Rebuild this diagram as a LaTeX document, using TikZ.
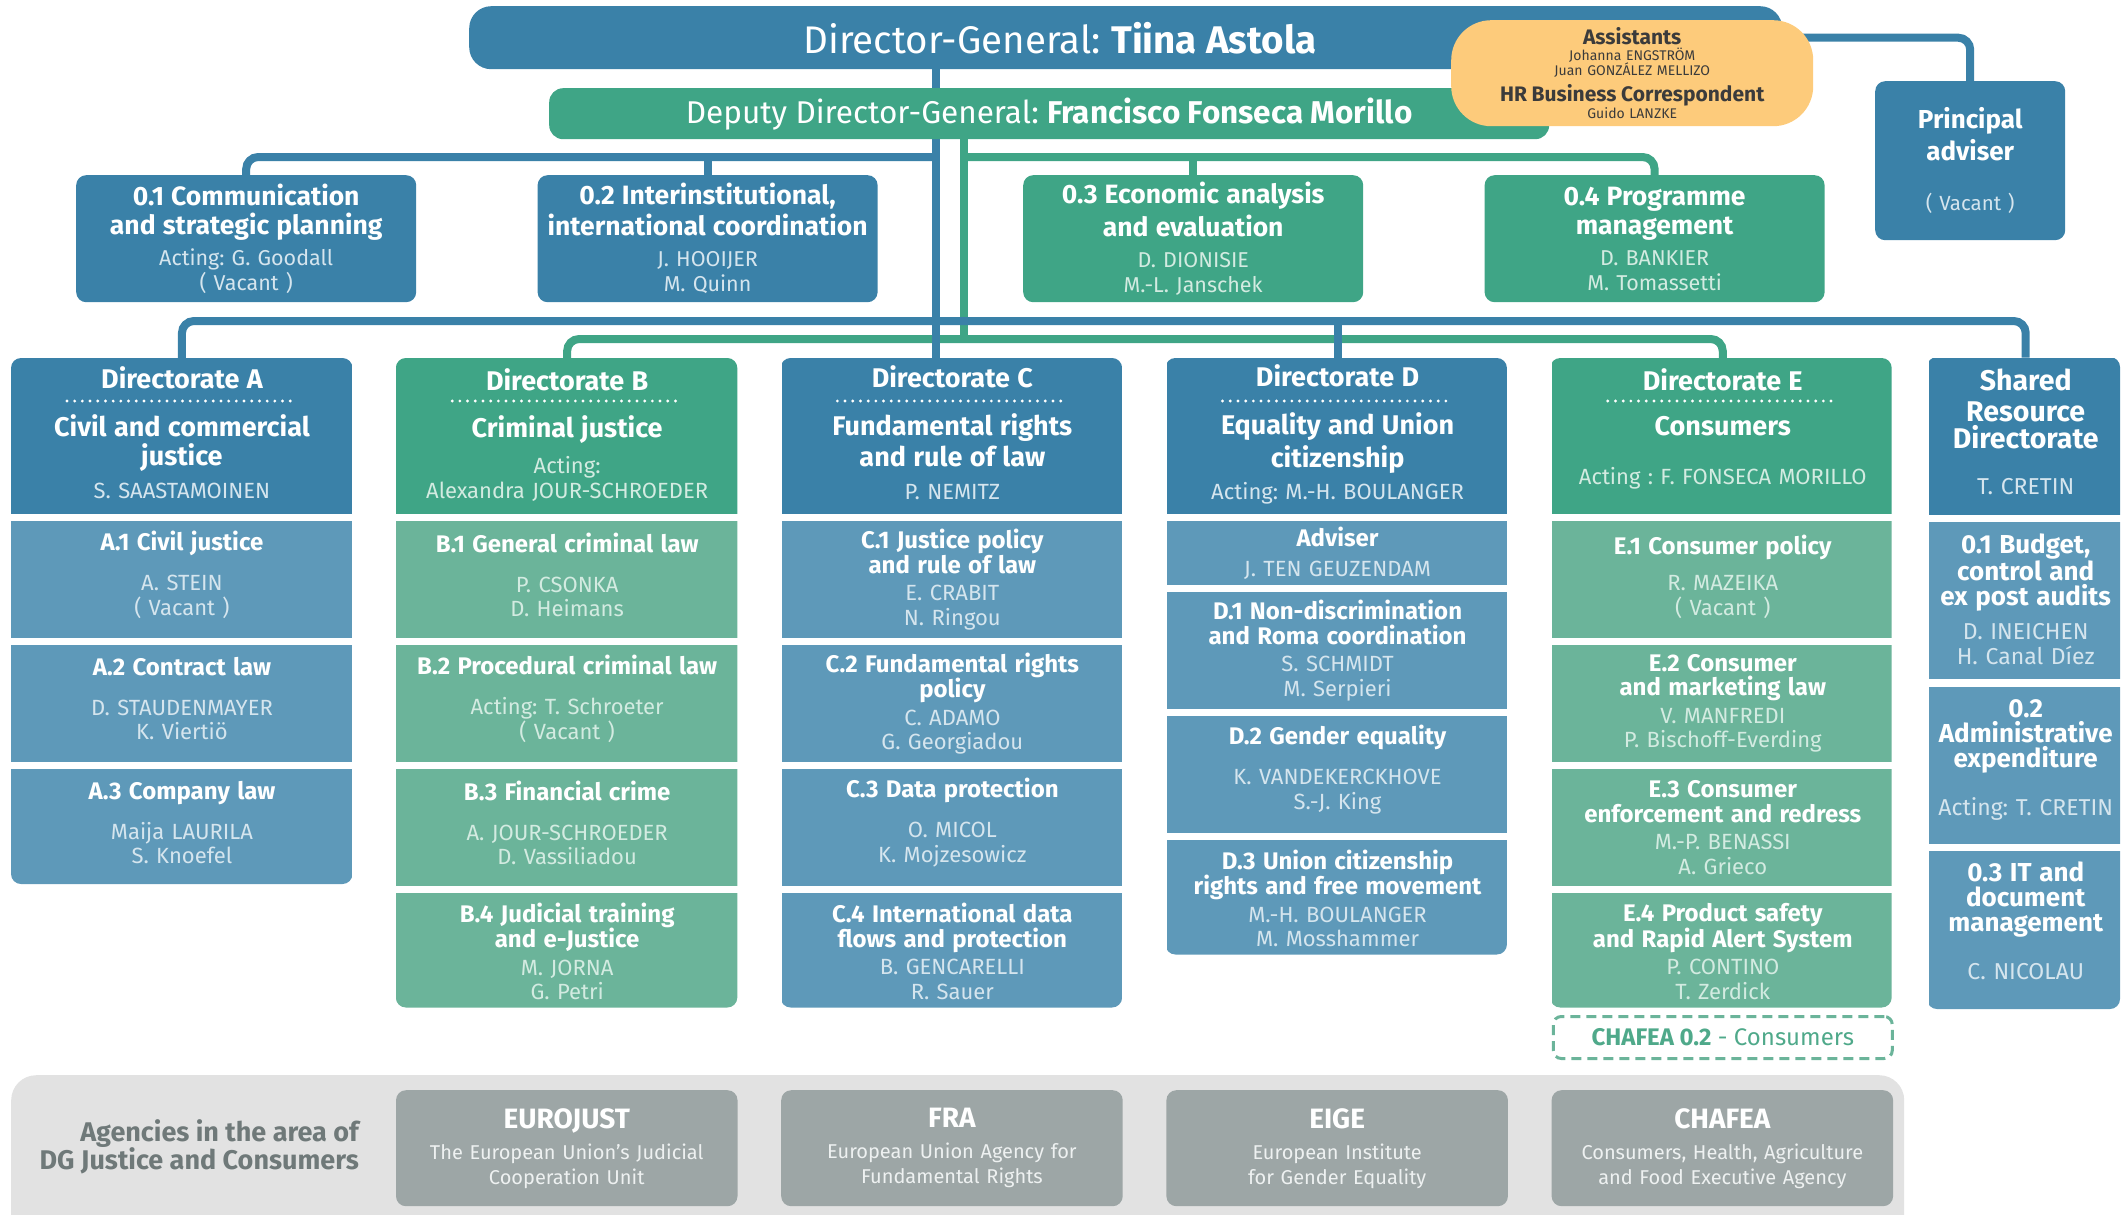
\documentclass[tikz,border=0pt]{standalone}
\usepackage{fontspec}
\setmainfont{Fira Sans}
\usetikzlibrary{positioning,backgrounds}

\definecolor{dgblue}{HTML}{3A81A8}
\definecolor{unitblue}{HTML}{5E99B9}
\definecolor{dggreen}{HTML}{3FA586}
\definecolor{unitgreen}{HTML}{6BB49A}
\definecolor{namblue}{HTML}{D5E5EE}
\definecolor{namgreen}{HTML}{D3EBE1}
\definecolor{agencygrey}{HTML}{9DA6A6}
\definecolor{agtext}{HTML}{EEF1F1}
\definecolor{bandgrey}{HTML}{E2E2E2}
\definecolor{asstyellow}{HTML}{FDCB7B}
\definecolor{asstext}{HTML}{3B3B3B}
\definecolor{labelgrey}{HTML}{6F7979}
\definecolor{chafeagreen}{HTML}{4FA98A}

% text of the boxes
\newcommand{\dirhd}[5][7.5pt]{{\color{white}\bfseries\fontsize{27}{30}\selectfont #3\\[#2]#4}\\[#1]#5\par\vspace{7pt}}
\newcommand{\un}[3][14pt]{{\color{white}\bfseries\fontsize{24}{24.5}\selectfont #2}\\[#1]#3}
\newcommand{\unone}[3][15.5pt]{\un[#1]{#2}{#3}\par\vspace{9.5pt}}
\newcommand{\st}[2]{{\color{white}\bfseries\fontsize{26.5}{25}\selectfont #1}\\[6pt]#2}
\newcommand{\ag}[2]{{\color{white}\bfseries\fontsize{28}{25}\selectfont #1}\\[6pt]#2}

\tikzset{
  box/.style={inner sep=0pt, align=center, font=\fontsize{22}{24.5}\selectfont},
  hdB/.style={box, fill=dgblue, text=namblue, minimum width=341.5, minimum height=156, text width=336, font=\fontsize{22}{25}\selectfont},
  hdG/.style={hdB, fill=dggreen, text=namgreen},
  unB/.style={box, fill=unitblue, text=namblue, minimum width=341.5, minimum height=117, text width=336},
  unG/.style={unB, fill=unitgreen, text=namgreen},
  srB/.style={unB, minimum width=193, minimum height=157, text width=190, font=\fontsize{23}{25}\selectfont},
  stB/.style={box, fill=dgblue, text=namblue, rounded corners=10, minimum width=340, minimum height=127, text width=334, font=\fontsize{21.5}{25}\selectfont},
  stG/.style={stB, fill=dggreen, text=namgreen},
  agency/.style={box, fill=agencygrey, text=agtext, rounded corners=10, minimum width=341.5, minimum height=116, text width=336, font=\fontsize{20}{25}\selectfont},
  bline/.style={draw=dgblue, line width=8, rounded corners=12},
  gline/.style={draw=dggreen, line width=8, rounded corners=12},
  dots/.style={white, line width=3.2, line cap=round, dash pattern=on 0pt off 7.7pt},
}

\begin{document}
\frenchspacing
\begin{tikzpicture}[x=1pt, y=-1pt, node distance=6.5pt]
\useasboundingbox (0,0) rectangle (2125,1215);

% top management
\node[box, fill=dgblue, rounded corners=22, minimum width=1313, minimum height=63, anchor=north west] (dg) at (469,6) {};
\node[box, text=white, font=\fontsize{38.5}{40}\selectfont] (dgt) at (1060,38) {Director-General: \textbf{Tiina Astola}};
\node[box, fill=dggreen, text=white, rounded corners=14, minimum width=1000, minimum height=51, anchor=north west, font=\fontsize{31.5}{32}\selectfont] (dep) at (549,88) {Deputy Director-General: \textbf{Francisco Fonseca Morillo}};
\node[box, fill=asstyellow, text=asstext, rounded corners=40, minimum width=362, minimum height=106, text width=340, anchor=north west, font=\fontsize{14}{15.5}\selectfont] (asst) at (1451,20)
  {{\bfseries\fontsize{21}{22}\selectfont Assistants}\\Johanna ENGSTRÖM\\Juan GONZÁLEZ MELLIZO\\[6pt]{\bfseries\fontsize{21}{22}\selectfont HR Business Correspondent}\\Guido LANZKE};
\node[stB, minimum width=190, minimum height=159, text width=180, anchor=north west, font=\fontsize{20.5}{26}\selectfont] (pa) at (1875,81)
  {{\color{white}\bfseries\fontsize{26}{30}\selectfont Principal\\[4pt]adviser}\\[24pt]( Vacant )};

% units attached to the DG
\node[stB, anchor=north west] (s1) at (76,175) {\st{0.1 Communication\\[4pt]and strategic planning}{Acting: G. Goodall\\( Vacant )}};
\node[stB, right=121pt of s1] (s2) {\st{0.2 Interinstitutional,\\[4pt]international coordination}{J. HOOIJER\\M. Quinn}};
\node[stG, anchor=north west] (s3) at (1023,175) {\st{0.3 Economic analysis\\[4pt]and evaluation}{D. DIONISIE\\M.-L. Janschek}};
\node[stG, right=121pt of s3] (s4) {\st{0.4 Programme\\[4pt]management}{D. BANKIER\\M. Tomassetti}};

% Directorate A
\begin{scope}
\clip[rounded corners=10] (11,358) rectangle (352.5,884);
\node[hdB, anchor=north west] (dA) at (11,358) {\dirhd{18pt}{Directorate A}{Civil and commercial\\[3.7pt]justice}{S. SAASTAMOINEN}};
\node[unB, below=of dA] (a1) {\unone{A.1 Civil justice}{A. STEIN\\( Vacant )}};
\node[unB, below=of a1] (a2) {\unone{A.2 Contract law}{D. STAUDENMAYER\\K. Viertiö}};
\node[unB, below=of a2] (a3) {\unone{A.3 Company law}{Maija LAURILA\\S. Knoefel}};
\end{scope}

% Directorate B
\begin{scope}
\clip[rounded corners=10] (395.8,358) rectangle (737.3,1007.5);
\node[hdG, right=43.3pt of dA] (dB) {\dirhd[11pt]{22pt}{Directorate B}{Criminal justice}{Acting:\\Alexandra JOUR-SCHROEDER}\vspace{-4pt}};
\node[unG, below=of dB] (b1) {\unone{B.1 General criminal law}{P. CSONKA\\D. Heimans}};
\node[unG, below=of b1] (b2) {\unone{B.2 Procedural criminal law}{Acting: T. Schroeter\\( Vacant )}};
\node[unG, below=of b2] (b3) {\unone{B.3 Financial crime}{A. JOUR-SCHROEDER\\D. Vassiliadou}};
\node[unG, below=of b3] (b4) {\un[3pt]{B.4 Judicial training\\and e-Justice}{M. JORNA\\G. Petri}};
\end{scope}

% Directorate C
\begin{scope}
\clip[rounded corners=10] (780.6,358) rectangle (1122.1,1007.5);
\node[hdB, right=43.3pt of dB] (dC) {\dirhd{18pt}{Directorate C}{Fundamental rights\\[3.7pt]and rule of law}{P. NEMITZ}};
\node[unB, below=of dC] (c1) {\un[3pt]{C.1 Justice policy\\and rule of law}{E. CRABIT\\N. Ringou}};
\node[unB, below=of c1] (c2) {\un[3pt]{C.2 Fundamental rights\\policy}{C. ADAMO\\G. Georgiadou}};
\node[unB, below=of c2] (c3) {\unone{C.3 Data protection}{O. MICOL\\K. Mojzesowicz}};
\node[unB, below=of c3] (c4) {\un[3pt]{C.4 International data\\flows and protection}{B. GENCARELLI\\R. Sauer}};
\end{scope}

% Directorate D
\begin{scope}
\clip[rounded corners=10] (1165.4,358) rectangle (1506.9,954.5);
\node[hdB, right=43.3pt of dC] (dD) {\dirhd{18pt}{Directorate D}{Equality and Union\\[3.7pt]citizenship}{Acting: M.-H. BOULANGER}\vspace{-4pt}};
\node[unB, below=of dD, minimum height=64] (dadv) {\un[5pt]{Adviser}{J. TEN GEUZENDAM}};
\node[unB, below=of dadv] (d1) {\un[3pt]{D.1 Non-discrimination\\and Roma coordination}{S. SCHMIDT\\M. Serpieri}};
\node[unB, below=of d1] (d2) {\unone{D.2 Gender equality}{K. VANDEKERCKHOVE\\S.-J. King}};
\node[unB, below=of d2] (d3) {\un[3pt]{D.3 Union citizenship\\rights and free movement}{M.-H. BOULANGER\\M. Mosshammer}};
\end{scope}

% Directorate E
\begin{scope}
\clip[rounded corners=10] (1550.2,358) rectangle (1891.7,1007.5);
\node[hdG, right=43.3pt of dD] (dE) {\dirhd[24pt]{20pt}{Directorate E}{Consumers}{Acting : F. FONSECA MORILLO}\vspace{7pt}};
\node[unG, below=of dE] (e1) {\un[11.5pt]{E.1 Consumer policy}{R. MAZEIKA\\( Vacant )}\par\vspace{5.5pt}};
\node[unG, below=of e1] (e2) {\un[3pt]{E.2 Consumer\\and marketing law}{V. MANFREDI\\P. Bischoff-Everding}};
\node[unG, below=of e2] (e3) {\un[3pt]{E.3 Consumer\\enforcement and redress}{M.-P. BENASSI\\A. Grieco}};
\node[unG, below=of e3] (e4) {\un[3pt]{E.4 Product safety\\and Rapid Alert System}{P. CONTINO\\T. Zerdick}};
\end{scope}
\node[box, draw=unitgreen, line width=3, dash pattern=on 10pt off 6pt, rounded corners=8, minimum width=339, minimum height=42, text=chafeagreen, font=\fontsize{24}{26}\selectfont, below=5pt of e4] (chafea) {\textbf{CHAFEA 0.2} - Consumers};

% Shared Resource Directorate
\begin{scope}
\clip[rounded corners=10] (1927,357) rectangle (2120,1009);
\node[hdB, minimum width=193, minimum height=157, text width=190, font=\fontsize{23}{25}\selectfont, right=35.3pt of dE] (dSR)
  {{\color{white}\bfseries\fontsize{28.5}{28}\selectfont Shared\\[3pt]Resource\\[2pt]Directorate}\\[20.5pt]T. CRETIN\par\vspace{9pt}};
\node[srB, below=7pt of dSR] (r1) {\un[9pt]{\fontsize{26}{25}\selectfont 0.1 Budget,\\control and\\ex post audits}{D. INEICHEN\\H. Canal Díez}\par\vspace{3pt}};
\node[srB, below=7pt of r1] (r2) {\un[23pt]{\fontsize{26}{25}\selectfont 0.2\\Administrative\\expenditure}{Acting: T. CRETIN}\par\vspace{10pt}};
\node[srB, below=7pt of r2, minimum height=159] (r3) {\un[23pt]{\fontsize{26}{25}\selectfont 0.3 IT and\\document\\management}{C. NICOLAU}\par\vspace{20pt}};
\end{scope}

\foreach \d in {dA,dB,dC,dD,dE}
  \draw[dots] ([xshift=-115,yshift=-43]\d.north) -- ([xshift=115,yshift=-43]\d.north);

% agencies
\node[box, fill=bandgrey, rounded corners=25, minimum width=1893, minimum height=190, anchor=north west] (band) at (11,1075) {};
\node[box, anchor=east, align=right, text=labelgrey, font=\bfseries\fontsize{27}{28}\selectfont] (aglbl) at (359,1147) {Agencies in the area of\\DG Justice and Consumers};
\node[agency, anchor=north west] (ag1) at (395.8,1090) {\ag{EUROJUST}{The European Union’s Judicial\\Cooperation Unit}};
\node[agency, right=43.3pt of ag1] (ag2) {\ag{FRA}{European Union Agency for\\Fundamental Rights}};
\node[agency, right=43.3pt of ag2] (ag3) {\ag{EIGE}{European Institute\\for Gender Equality}};
\node[agency, right=43.3pt of ag3] (ag4) {\ag{CHAFEA}{Consumers, Health, Agriculture\\and Food Executive Agency}};

% connectors
\begin{pgfonlayer}{background}
\coordinate (tb) at (936,0);
\coordinate (tg) at (964,0);
\coordinate (hs) at (0,157);
\coordinate (hb) at (0,321);
\coordinate (hg) at (0,339);
\draw[gline] (dep.south -| tg) -- (tg |- hg);
\draw[gline] (tg |- hs) -| (s4.north);
\draw[gline] (s3.north) -- (s3.north |- hs);
\draw[gline] (dB.north) |- (tg |- hg) -| (dE.north);
\draw[bline] (dg.south -| tb) -- (dC.north -| tb);
\draw[bline] (tb |- hs) -| (s1.north);
\draw[bline] (s2.north) -- (s2.north |- hs);
\draw[bline] (dA.north) |- (tb |- hb) -| (dSR.north);
\draw[bline] (dD.north) -- (dD.north |- hb);
\draw[bline] (dg.east) -| (pa.north);
\end{pgfonlayer}
\end{tikzpicture}
\end{document}
